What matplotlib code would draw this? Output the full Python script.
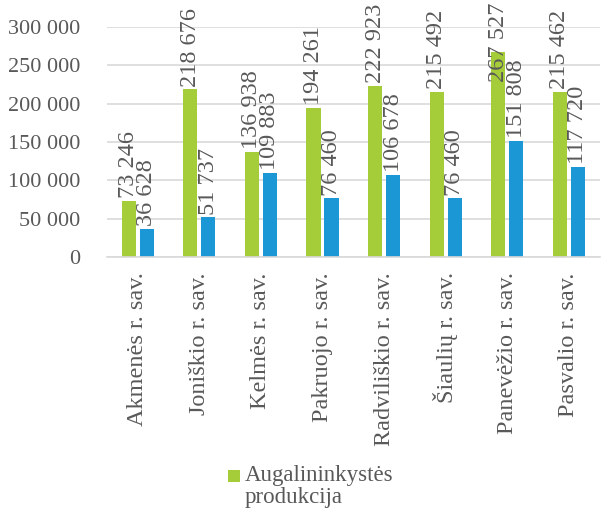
import numpy as np
import matplotlib
matplotlib.use("Agg")
import matplotlib.pyplot as plt
from matplotlib.ticker import FuncFormatter
from matplotlib.patches import Rectangle

regions = ["Akmenės r. sav.", "Joniškio r. sav.", "Kelmės r. sav.", "Pakruojo r. sav.",
           "Radviliškio r. sav.", "Šiaulių r. sav.", "Panevėžio r. sav.", "Pasvalio r. sav."]
augal = [73246, 218676, 136938, 194261, 222923, 215492, 267527, 215462]
second = [36628, 51737, 109883, 76460, 106678, 76460, 151808, 117720]
legend_label = "Augalininkystės\nprodukcija"

green = "#a5cd39"
blue = "#1b97d5"
grey = "#595959"

plt.rcParams["font.family"] = ["Liberation Serif", "DejaVu Serif"]

def fmt(v):
    return f"{int(v):,}".replace(",", " ")

fig = plt.figure(figsize=(6.04, 5.14), dpi=100)
ax = fig.add_axes([0.177, 0.5, 0.816, 0.4475])

x = np.arange(len(regions))
w = 0.23
off = 0.146
b1 = ax.bar(x - off, augal, w, color=green, label=legend_label, zorder=2)
b2 = ax.bar(x + off, second, w, color=blue, zorder=2)

ax.set_ylim(0, 300000)
ax.set_xlim(-0.5, len(regions) - 0.5)
ax.set_yticks(range(0, 300001, 50000))
ax.yaxis.set_major_formatter(FuncFormatter(lambda v, p: fmt(v)))
ax.grid(axis="y", color="#d9d9d9", linewidth=1.2, zorder=0)
for s in ["top", "right", "left"]:
    ax.spines[s].set_visible(False)
ax.spines["bottom"].set_color("#d9d9d9")
ax.spines["bottom"].set_linewidth(1.2)
ax.tick_params(axis="both", length=0, colors=grey)
ax.tick_params(axis="y", labelsize=16, pad=19)
ax.set_xticks(x)
ax.set_xticklabels(regions, rotation=90, va="top", ha="center", fontsize=17.5)
ax.tick_params(axis="x", pad=11)

# data labels (pushed down when they would run off the chart top)
cap = 225000
for xs, vals in [(x - off, augal), (x + off, second)]:
    for xi, v in zip(xs, vals):
        ax.annotate(fmt(v), (xi, min(v, cap)), xytext=(0, 2), textcoords="offset points",
                    rotation=90, ha="center", va="bottom", fontsize=17.5, color=grey,
                    annotation_clip=False, zorder=3)

leg = fig.legend(handles=[b1], labels=[legend_label], loc="upper left", bbox_to_anchor=(0.377, 0.096),
                 bbox_transform=fig.transFigure, frameon=False, fontsize=16.5, labelcolor=grey,
                 handlelength=0.52, handleheight=0.52, handletextpad=0.22, borderpad=0,
                 borderaxespad=0)
leg.get_texts()[0].set_linespacing(1.1)

# put the legend square beside the first line of the label, like the original
fig.canvas.draw()
leg.legend_handles[0].set_visible(False)
tb = leg.get_texts()[0].get_window_extent()
sq = 12
cy = tb.y1 - tb.height / 4
fig.add_artist(Rectangle((tb.x0 - 5 - sq, cy - sq / 2), sq, sq, transform=None,
                         facecolor=green, edgecolor="none"))

fig.savefig("out.png", dpi=100)
